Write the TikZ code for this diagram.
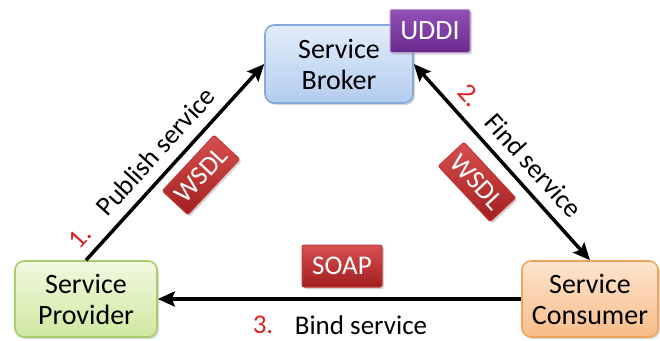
\documentclass[tikz,border=0pt]{standalone}
\usepackage{fontspec}
\setmainfont{Carlito}
\usetikzlibrary{arrows.meta,shadows}
\definecolor{brokTop}{HTML}{E2EDFB}
\definecolor{brokBot}{HTML}{B3CCEE}
\definecolor{brokLine}{HTML}{86A8DC}
\definecolor{provTop}{HTML}{F0F8E0}
\definecolor{provBot}{HTML}{CFE9A0}
\definecolor{provLine}{HTML}{A6CD6A}
\definecolor{consTop}{HTML}{FDE5CF}
\definecolor{consBot}{HTML}{F8BC88}
\definecolor{consLine}{HTML}{F0A55E}
\definecolor{uddiTop}{HTML}{9050B8}
\definecolor{uddiBot}{HTML}{6A2A8C}
\definecolor{uddiLine}{HTML}{B894D0}
\definecolor{redTop}{HTML}{D85050}
\definecolor{redBot}{HTML}{A21E1E}
\definecolor{redLine}{HTML}{C23838}
\definecolor{numRed}{HTML}{E02020}
\begin{document}
\begin{tikzpicture}[x=1pt,y=-1pt,
  every node/.style={font=\fontsize{28}{31}\selectfont},
  party/.style={rounded corners=9pt, line width=1.6pt, align=center, inner sep=0pt,
    drop shadow={opacity=0.3,shadow xshift=2pt,shadow yshift=-2pt}},
  tag/.style={rounded corners=2pt, line width=1pt, text=white,
    top color=redTop, bottom color=redBot, draw=redLine, inner sep=0pt,
    drop shadow={opacity=0.35,shadow xshift=2pt,shadow yshift=-2pt},
    font=\fontsize{27}{30}\selectfont},
  tip/.tip={Stealth[length=17pt,width=15pt,inset=3pt]},
  conn/.style={line width=3.5pt, -tip},
  lbl/.style={sloped, font=\fontsize{27}{30}\selectfont},
  num/.style={sloped, text=numRed, font=\fontsize{27}{30}\selectfont}
]
\useasboundingbox (0,0) rectangle (660,340);

\node[party, top color=brokTop, bottom color=brokBot, draw=brokLine,
  minimum width=148pt, minimum height=78pt] (brok) at (339,64) {Service\\Broker};
\node[party, top color=provTop, bottom color=provBot, draw=provLine,
  minimum width=142pt, minimum height=76pt] (prov) at (86,299) {Service\\Provider};
\node[party, top color=consTop, bottom color=consBot, draw=consLine,
  minimum width=136pt, minimum height=76pt] (cons) at (590,299) {Service\\Consumer};
\node[rounded corners=2pt, line width=1pt, text=white,
  top color=uddiTop, bottom color=uddiBot, draw=uddiLine,
  minimum width=80pt, minimum height=43pt, inner sep=0pt,
  drop shadow={opacity=0.3,shadow xshift=2pt,shadow yshift=-2pt}] (uddi) at (430,31) {UDDI};

\draw[conn] (prov.north) -- (brok.west)
  node[num, pos=0.05, above=6pt] (n1) {1.}
  node[lbl, pos=0.48, above=7pt] (l1) {Publish service};
\draw[conn, tip-tip] (brok.east) -- (cons.north)
  node[num, pos=0.23, above=7pt] (n2) {2.}
  node[lbl, pos=0.59, above=7pt] (l2) {Find service};
\draw[conn] (cons.west) -- (prov.east);

\node[tag, minimum width=76pt, minimum height=35pt, rotate=47] (w1) at (201,175) {WSDL};
\node[tag, minimum width=76pt, minimum height=35pt, rotate=-47] (w2) at (477,182) {WSDL};
\node[tag, minimum width=80pt, minimum height=42pt] (soap) at (342,266) {SOAP};

\node[text=numRed, font=\fontsize{27}{30}\selectfont] (n3) at (263,325) {3.};
\node[font=\fontsize{27}{30}\selectfont] (l3) at (361,325) {Bind service};
\end{tikzpicture}
\end{document}
